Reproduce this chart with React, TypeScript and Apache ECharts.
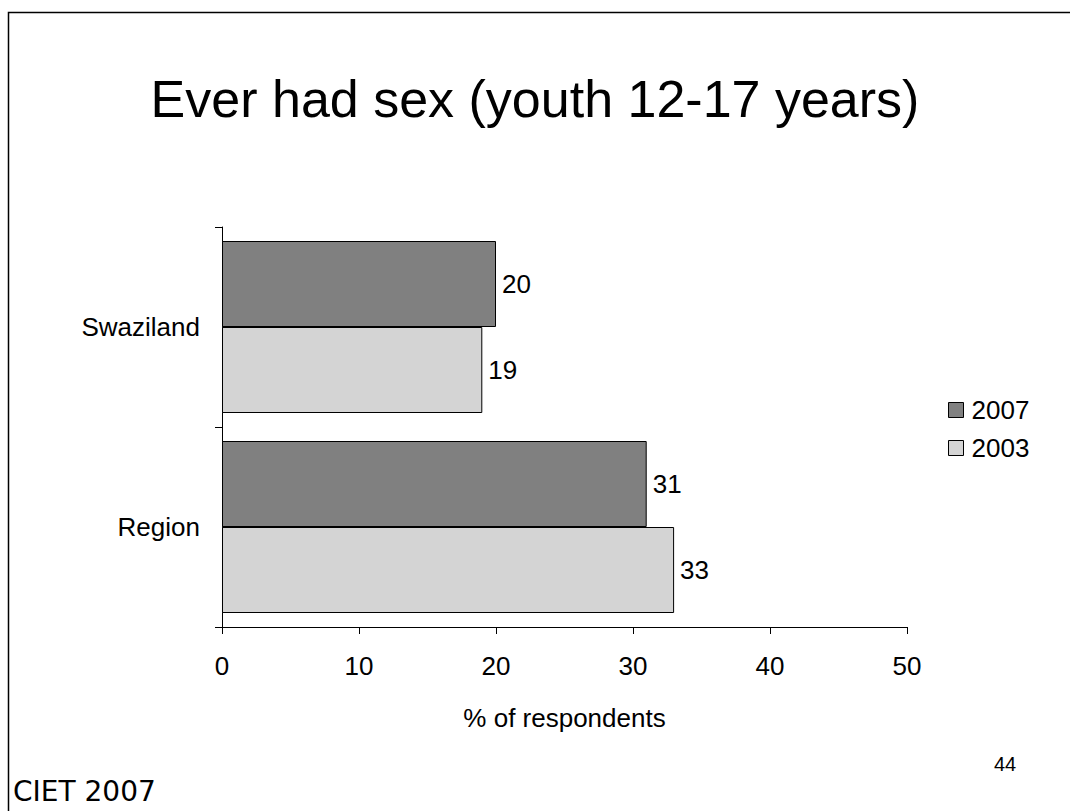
import React, { useEffect, useRef } from "react";
import * as echarts from "echarts";

const categories = ["Region", "Swaziland"];
const values2007 = [31, 20];
const values2003 = [33, 19];
const xTicks = [0, 10, 20, 30, 40, 50];
const titleText = "Ever had sex (youth 12-17 years)";
const axisName = "% of respondents";
const pageNumber = "44";
const footer = "CIET 2007";

export default function App() {
  const ref = useRef<HTMLDivElement>(null);
  useEffect(() => {
    document.body.style.margin = "0";
    const chart = echarts.init(ref.current!, undefined, { renderer: "svg" });
    const font = "'Liberation Sans', Arial, sans-serif";
    const labelStyle = { show: true, position: "right", distance: 6, fontSize: 26, color: "#000", fontFamily: font };
    chart.setOption({
      animation: false,
      backgroundColor: "#ffffff",
      textStyle: { fontFamily: font },
      title: {
        text: titleText,
        left: "center",
        top: 68,
        textStyle: { fontSize: 52, fontWeight: "normal", color: "#000", fontFamily: font },
      },
      legend: {
        data: ["2007", "2003"],
        orient: "vertical",
        left: 948,
        top: 397,
        padding: 0,
        itemWidth: 15,
        itemHeight: 15,
        itemGap: 12,
        icon: "rect",
        textStyle: { fontSize: 26, color: "#000", fontFamily: font, padding: [0, 0, 0, 3] },
        itemStyle: { borderColor: "#000", borderWidth: 1 },
      },
      grid: { left: 222, right: 163, top: 227, bottom: 184, containLabel: false },
      xAxis: {
        type: "value",
        min: xTicks[0],
        max: xTicks[xTicks.length - 1],
        interval: 10,
        name: axisName,
        nameLocation: "middle",
        nameGap: 78,
        nameTextStyle: { fontSize: 26, color: "#000", fontFamily: font },
        axisLine: { show: true, lineStyle: { color: "#000", width: 1 } },
        axisTick: { show: true, length: 7, lineStyle: { color: "#000" } },
        axisLabel: { fontSize: 26, color: "#000", margin: 26, fontFamily: font },
        splitLine: { show: false },
      },
      yAxis: {
        type: "category",
        data: categories,
        axisLine: { show: true, lineStyle: { color: "#000", width: 1 } },
        axisTick: { show: true, length: 7, lineStyle: { color: "#000" } },
        axisLabel: { fontSize: 26, color: "#000", margin: 22, fontFamily: font },
      },
      series: [
        {
          name: "2007",
          type: "bar",
          data: values2007,
          barWidth: 86,
          barGap: "0%",
          itemStyle: { color: "#808080", borderColor: "#000", borderWidth: 1 },
          label: labelStyle,
        },
        {
          name: "2003",
          type: "bar",
          data: values2003,
          barWidth: 86,
          barGap: "0%",
          itemStyle: { color: "#d4d4d4", borderColor: "#000", borderWidth: 1 },
          label: labelStyle,
        },
      ],
      graphic: [
        {
          type: "rect",
          shape: { x: 8.5, y: 12.5, width: 1200, height: 1000 },
          style: { fill: "none", stroke: "#000", lineWidth: 1.5 },
          silent: true,
        },
        {
          type: "text",
          left: 994,
          top: 754,
          style: { text: pageNumber, fontSize: 20, fill: "#000", fontFamily: font },
        },
        {
          type: "text",
          left: 13,
          top: 777,
          style: { text: footer, fontSize: 28, fill: "#000", fontFamily: "'DejaVu Sans', sans-serif" },
        },
      ],
    });
    return () => chart.dispose();
  }, []);
  return <div ref={ref} style={{ width: 1070, height: 811 }} />;
}
